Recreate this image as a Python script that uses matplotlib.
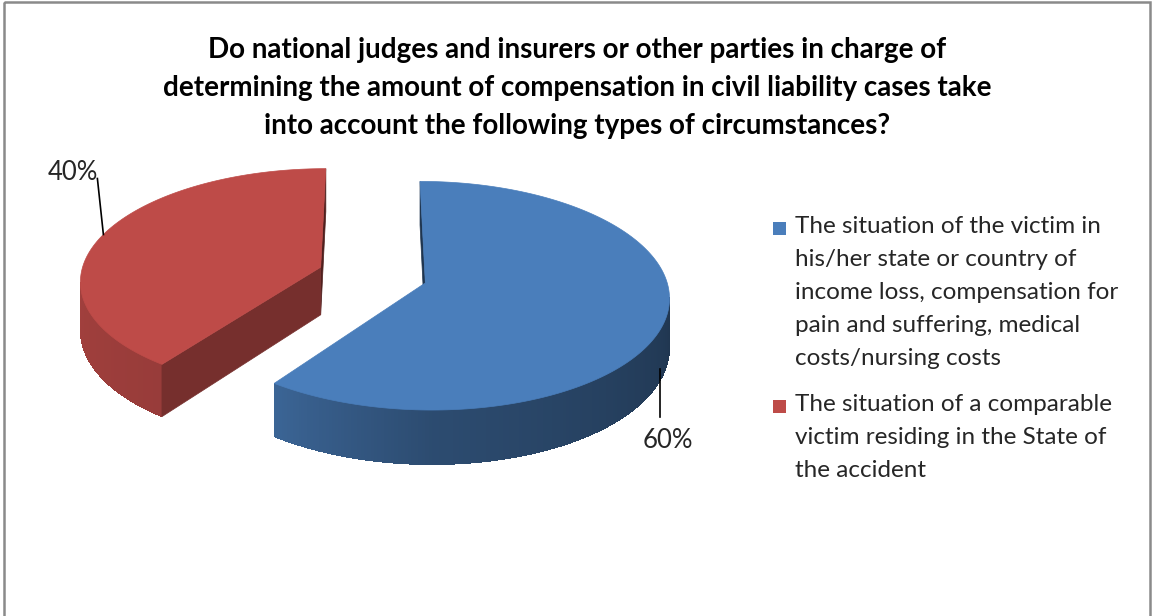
import numpy as np
import matplotlib
matplotlib.use("agg")
import matplotlib.pyplot as plt
from matplotlib.colors import to_rgb
from matplotlib.collections import PolyCollection
from matplotlib.patches import Polygon, Rectangle

title = ("Do national judges and insurers or other parties in charge of\n"
         "determining the amount of compensation in civil liability cases take\n"
         "into account the following types of circumstances?")
categories = [
    "The situation of the victim in\nhis/her state or country of\nincome loss, compensation for\n"
    "pain and suffering, medical\ncosts/nursing costs",
    "The situation of a comparable\nvictim residing in the State of\nthe accident",
]
shares = [60, 40]
top_colors = ["#4a7ebb", "#be4b48"]

# pseudo-perspective for a tilted, exploded 3-D pie (pixel units)
R, H = 240.0, 48.0          # radius, thickness
P, SY = 0.111, 0.463        # perspective strength, vertical squash
XC, YC = 372.6, 275.0       # screen position of the pie centre
EXPLODE = 55.0
CAM_Y = -R / P


def proj(x, y, z=0.0):
    s = 1.0 / (1.0 + P * y / R)
    return XC + x * s, YC - (y * SY + z) * s


def shade(col, k):
    return tuple(np.clip(np.array(to_rgb(col)) * k, 0, 1))


def side_k(deg):
    t = (deg + 180) % 360 - 180
    return np.interp(t, [-180, -126, -90, 0, 90], [0.86, 0.80, 0.60, 0.41, 0.41])


def faces_cam(nx, ny, px, py):
    return nx * (0 - px) + ny * (CAM_Y - py) > 0


fig = plt.figure(figsize=(11.54, 6.16), dpi=100)
ax = fig.add_axes([0, 0, 1, 1])
ax.set_xlim(0, 1154)
ax.set_ylim(616, 0)
ax.axis("off")

ax.add_patch(Rectangle((4, 2), 1146, 640, fill=False, ec="#8a8a8a", lw=1.8))

start = 90.0
for share, col in zip(shares, top_colors):
    span = 360.0 * share / 100
    t1, t2 = start - span, start
    mid = np.radians((t1 + t2) / 2)
    cx, cy = EXPLODE * np.cos(mid), EXPLODE * np.sin(mid)
    th = np.radians(np.linspace(t1, t2, 300))
    rx, ry = cx + R * np.cos(th), cy + R * np.sin(th)

    # outer curved wall, only strips turned to the viewer
    tm = 0.5 * (th[:-1] + th[1:])
    vis = faces_cam(np.cos(tm), np.sin(tm), cx + R * np.cos(tm), cy + R * np.sin(tm))
    idx = np.where(vis)[0]
    if len(idx):
        pts = list(range(idx[0], idx[-1] + 2))
        outline = [proj(rx[i], ry[i]) for i in pts] + [proj(rx[i], ry[i], -H) for i in pts[::-1]]
        ax.add_patch(Polygon(outline, closed=True, fc=shade(col, side_k(np.degrees(tm[idx]).mean())),
                             ec="none"))
        quads, cols = [], []
        for i in idx:
            quads.append([proj(rx[i], ry[i]), proj(rx[i + 1], ry[i + 1]),
                          proj(rx[i + 1], ry[i + 1], -H), proj(rx[i], ry[i], -H)])
            cols.append(shade(col, side_k(np.degrees(tm[i]))))
        ax.add_collection(PolyCollection(quads, facecolors=cols, edgecolors="none",
                                         linewidths=0, antialiaseds=False))

    # radial cut faces
    for ang, nrm in ((t1, t1 - 90), (t2, t2 + 90)):
        a, n = np.radians(ang), np.radians(nrm)
        ex, ey = cx + R * np.cos(a), cy + R * np.sin(a)
        if not faces_cam(np.cos(n), np.sin(n), (cx + ex) / 2, (cy + ey) / 2):
            continue
        k = 0.62 if np.sin(n) < 0 else 0.42
        quad = [proj(cx, cy), proj(ex, ey), proj(ex, ey, -H), proj(cx, cy, -H)]
        ax.add_patch(Polygon(quad, closed=True, fc=shade(col, k), ec=shade(col, k), lw=0.5))

    # top face
    top = [proj(cx, cy)] + [proj(x, y) for x, y in zip(rx, ry)]
    ax.add_patch(Polygon(top, closed=True, fc=col, ec=col, lw=0.5))

    # percentage label with leader line
    bx, by = cx + R * np.cos(mid), cy + R * np.sin(mid)
    if np.sin(mid) < 0:
        x0, y0 = proj(bx, by, -H)
        x0 -= 6
        x1, y1 = x0, y0 + 48
        ax.plot([x0, x1], [y0, y1], color="black", lw=1.2)
        ax.text(x1 + 8, y1 + 11, f"{share}%", ha="center", va="top",
                fontsize=18.5, family="Lato", color="#262626")
    else:
        x0, y0 = proj(bx, by)
        x1, y1 = x0 - 6, y0 - 56
        ax.plot([x0, x1], [y0, y1], color="black", lw=1.2)
        ax.text(x1 + 1, y1 + 6, f"{share}%", ha="right", va="bottom",
                fontsize=18.5, family="Lato", color="#262626")
    start = t1

ax.text(577, 88, title, ha="center", va="center", fontsize=20,
        family="Lato", weight="bold", linespacing=1.58, color="black")

# legend
leg_y = [216, 394]
for lab, col, y in zip(categories, top_colors, leg_y):
    ax.add_patch(Rectangle((773, y + 6), 13, 13, fc=col, ec="none"))
    ax.text(795, y, lab, ha="left", va="top", fontsize=17.5, family="Lato",
            linespacing=1.7, color="#262626")

fig.savefig("out.png", dpi=100)
